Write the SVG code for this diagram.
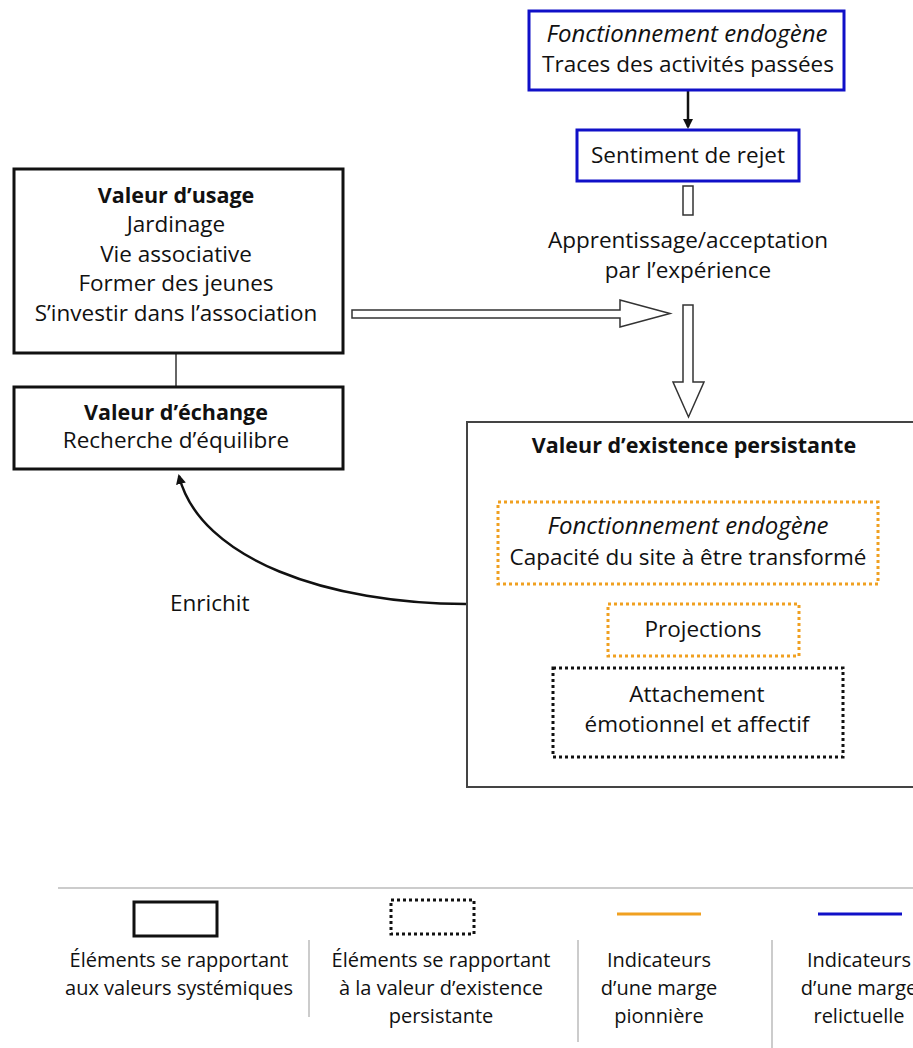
<svg xmlns="http://www.w3.org/2000/svg" width="913" height="1048" viewBox="0 0 913 1048">
<style>
text{font-family:"Open Sans","Noto Sans","Liberation Sans",sans-serif;font-size:22.5px;fill:#111;text-anchor:middle}
.b{font-weight:bold;font-size:21.5px}
.i{font-style:italic;font-size:24px}
.l{text-anchor:start}
.lg{font-size:20px}
.blue{fill:#fff;stroke:#1010c8;stroke-width:3}
.sys{fill:#fff;stroke:#111;stroke-width:3}
.ex{fill:#fff;stroke:#444;stroke-width:2}
.or{fill:none;stroke:#f0a020;stroke-width:3;stroke-dasharray:3 3}
.bd{fill:none;stroke:#111;stroke-width:3;stroke-dasharray:3 3}
.hol{fill:#fff;stroke:#333;stroke-width:1.5}
.sep{stroke:#ccc;stroke-width:2}
</style>
<defs>
<marker id="ah" markerWidth="10" markerHeight="10" refX="8" refY="5" orient="auto" markerUnits="userSpaceOnUse"><path d="M0,0 L10,5 L0,10 Z" fill="#111"/></marker>
</defs>

<g id="connectors">
<line x1="688" y1="91" x2="688" y2="127" stroke="#111" stroke-width="2.5" marker-end="url(#ah)"/>
<rect class="hol" x="683" y="186" width="10" height="29"/>
<path class="hol" d="M683,305 L693,305 L693,382 L704,382 L688.5,417 L673,382 L683,382 Z"/>
<path class="hol" d="M352,310 L620,310 L620,300 L670,313.5 L620,327 L620,318 L352,318 Z"/>
<line x1="176" y1="353" x2="176" y2="387" stroke="#333" stroke-width="1.5"/>
<path d="M466,604 C330,604 200,560 179,476" fill="none" stroke="#111" stroke-width="2.5" marker-end="url(#ah)"/>
<text class="l" x="170" y="611">Enrichit</text>
</g>

<g id="n-traces">
<rect class="blue" x="529" y="11" width="315" height="79"/>
<text class="i" x="687" y="42">Fonctionnement endogène</text>
<text x="688" y="72">Traces des activités passées</text>
</g>

<g id="n-rejet">
<rect class="blue" x="577" y="130" width="222" height="51"/>
<text x="688" y="163">Sentiment de rejet</text>
</g>

<g id="n-apprentissage">
<text x="688" y="248">Apprentissage/acceptation</text>
<text x="688" y="278">par l’expérience</text>
</g>

<g id="n-usage">
<rect class="sys" x="14" y="169" width="329" height="184"/>
<text class="b" x="176" y="203">Valeur d’usage</text>
<text x="176" y="232">Jardinage</text>
<text x="176" y="262">Vie associative</text>
<text x="176" y="291">Former des jeunes</text>
<text x="176" y="321">S’investir dans l’association</text>
</g>

<g id="n-echange">
<rect class="sys" x="14" y="387" width="329" height="82"/>
<text class="b" x="176" y="420">Valeur d’échange</text>
<text x="176" y="448">Recherche d’équilibre</text>
</g>

<g id="n-existence">
<rect class="ex" x="467" y="422" width="450" height="365"/>
<text class="b" x="694" y="453">Valeur d’existence persistante</text>
</g>

<g id="n-capacite">
<rect class="or" x="498" y="502" width="380" height="82"/>
<text class="i" x="688" y="534">Fonctionnement endogène</text>
<text x="688" y="565">Capacité du site à être transformé</text>
</g>

<g id="n-projections">
<rect class="or" x="608" y="604" width="191" height="52"/>
<text x="703" y="637">Projections</text>
</g>

<g id="n-attachement">
<rect class="bd" x="553" y="668" width="290" height="89"/>
<text x="697" y="702">Attachement</text>
<text x="697" y="732">émotionnel et affectif</text>
</g>

<g id="legend">
<line x1="58" y1="888" x2="913" y2="888" stroke="#ccc" stroke-width="2"/>
<rect x="134" y="902" width="83" height="34" fill="none" stroke="#111" stroke-width="3"/>
<text class="lg" x="179" y="967">Éléments se rapportant</text>
<text class="lg" x="179" y="995">aux valeurs systémiques</text>
<line class="sep" x1="309" y1="940" x2="309" y2="1017"/>
<rect x="391" y="900" width="83" height="34" fill="none" stroke="#111" stroke-width="3" stroke-dasharray="3 3"/>
<text class="lg" x="441" y="967">Éléments se rapportant</text>
<text class="lg" x="441" y="995">à la valeur d’existence</text>
<text class="lg" x="441" y="1023">persistante</text>
<line class="sep" x1="578" y1="940" x2="578" y2="1042"/>
<line x1="617" y1="914" x2="701" y2="914" stroke="#f0a020" stroke-width="3"/>
<text class="lg" x="659" y="967">Indicateurs</text>
<text class="lg" x="659" y="995">d’une marge</text>
<text class="lg" x="659" y="1023">pionnière</text>
<line class="sep" x1="772" y1="940" x2="772" y2="1048"/>
<line x1="818" y1="914" x2="902" y2="914" stroke="#1010c8" stroke-width="3"/>
<text class="lg" x="859" y="967">Indicateurs</text>
<text class="lg" x="859" y="995">d’une marge</text>
<text class="lg" x="859" y="1023">relictuelle</text>
</g>
</svg>
